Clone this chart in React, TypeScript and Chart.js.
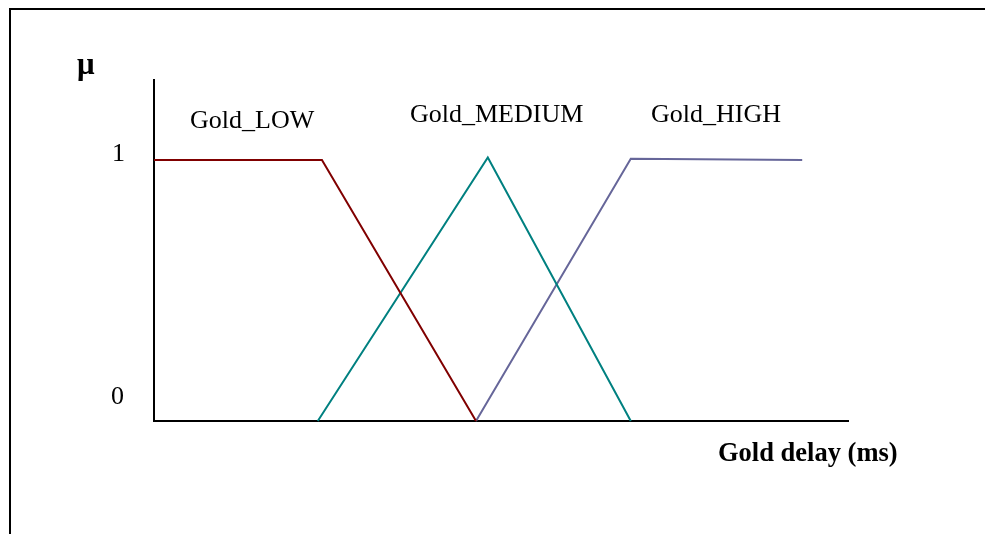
import React, { useEffect, useRef } from "react";
import { Chart, registerables } from "chart.js";

Chart.register(...registerables);

// ---- data (x in relative delay units 0..100, y = membership) ----
const seriesNames = ["Gold_LOW", "Gold_MEDIUM", "Gold_HIGH"];
const lowX = [0, 24.2, 46.4];
const lowY = [1, 1, 0];
const mediumX = [23.6, 48.1, 68.7];
const mediumY = [0, 1.01, 0];
const highX = [46.4, 68.7, 93.4];
const highY = [0, 1.005, 1];
const yTickLabels = ["0", "1"];
const yAxisTitle = "μ";
const xAxisTitle = "Gold delay (ms)";

const colors = ["#800000", "#008080", "#666699"];

const toPts = (xs: number[], ys: number[]) => xs.map((x, i) => ({ x, y: ys[i] }));

export default function App() {
  const ref = useRef<HTMLCanvasElement | null>(null);

  useEffect(() => {
    if (!ref.current) return;
    const serif = "'Liberation Serif', 'Times New Roman', serif";
    const textPlugin = {
      id: "texts",
      beforeDraw(chart: any) {
        const ctx = chart.ctx;
        ctx.save();
        ctx.fillStyle = "#000";
        ctx.fillRect(9, 8, 985, 2);
        ctx.fillRect(9, 8, 2, 540);
        ctx.restore();
      },
      afterDraw(chart: any) {
        const ctx = chart.ctx;
        const ys = chart.scales.y;
        ctx.save();
        ctx.fillStyle = "#000";
        ctx.textBaseline = "alphabetic";
        ctx.textAlign = "left";
        ctx.font = `26px ${serif}`;
        // series labels
        ctx.fillText(seriesNames[0], 190, 128);
        ctx.fillText(seriesNames[1], 410, 122);
        ctx.fillText(seriesNames[2], 651, 122);
        // y tick labels
        ctx.textAlign = "right";
        ctx.fillText(yTickLabels[1], 125, ys.getPixelForValue(1) + 1);
        ctx.fillText(yTickLabels[0], 124, ys.getPixelForValue(0) - 17);
        // axis titles
        ctx.textAlign = "left";
        ctx.font = `bold 31px ${serif}`;
        ctx.fillText(yAxisTitle, 77, 74);
        ctx.font = `bold 26.5px ${serif}`;
        ctx.fillText(xAxisTitle, 718, 461);
        ctx.restore();
      },
    };

    const chart = new Chart(ref.current, {
      type: "line",
      data: {
        datasets: [
          { label: seriesNames[0], data: toPts(lowX, lowY), borderColor: colors[0] },
          { label: seriesNames[1], data: toPts(mediumX, mediumY), borderColor: colors[1] },
          { label: seriesNames[2], data: toPts(highX, highY), borderColor: colors[2] },
        ].map((d) => ({
          ...d,
          borderWidth: 2,
          pointRadius: 0,
          tension: 0,
          fill: false,
          clip: false as any,
        })),
      },
      options: {
        animation: false,
        responsive: false,
        devicePixelRatio: 1,
        layout: { padding: { left: 154, right: 137, top: 80, bottom: 113 } },
        plugins: { legend: { display: false }, tooltip: { enabled: false }, title: { display: false } },
        scales: {
          x: {
            type: "linear",
            min: 0,
            max: 100,
            grid: { display: false },
            ticks: { display: false },
            border: { display: true, color: "#000", width: 2 },
            afterFit: (s: any) => { s.height = 0; },
          },
          y: {
            type: "linear",
            min: 0,
            max: 1.307,
            grid: { display: false },
            ticks: { display: false },
            border: { display: true, color: "#000", width: 2 },
            afterFit: (s: any) => { s.width = 0; },
          },
        },
      },
      plugins: [textPlugin],
    });
    return () => chart.destroy();
  }, []);

  return (
    <div style={{ position: "fixed", left: 0, top: 0, width: 985, height: 534, overflow: "hidden", background: "#fff" }}>
      <canvas ref={ref} width={985} height={534} style={{ display: "block", width: 985, height: 534 }} />
    </div>
  );
}
